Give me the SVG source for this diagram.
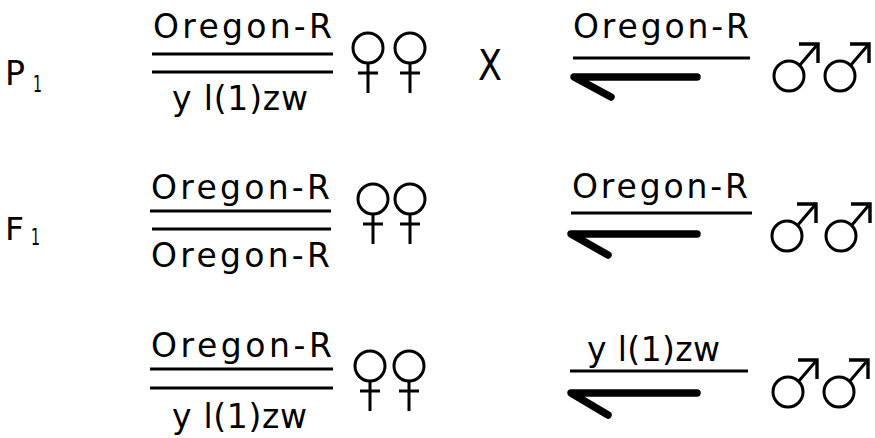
<svg xmlns="http://www.w3.org/2000/svg" xmlns:xlink="http://www.w3.org/1999/xlink" width="875" height="438" viewBox="0 0 875 438">
<style>
  text { font-family: "DejaVu Sans", "Liberation Sans", sans-serif; fill: #000; }
  .gen { font-size: 33px; }
  .sub { font-size: 23px; }
  .thin { stroke: #000; stroke-width: 2.8; fill: none; }
  .thick { stroke: #000; stroke-width: 7.5; fill: none; stroke-linecap: round; stroke-linejoin: round; }
  .sym { stroke: #000; stroke-width: 3; fill: none; }
</style>
<defs>
  <g id="fem" class="sym">
    <circle cx="0" cy="0" r="15"/>
    <line x1="0" y1="15" x2="0" y2="45"/>
    <line x1="-10" y1="25" x2="10" y2="25"/>
  </g>
  <g id="male" class="sym">
    <circle cx="0" cy="0" r="15"/>
    <line x1="10.5" y1="-10.5" x2="28" y2="-31"/>
    <polyline points="10,-32 29,-32 29,-13" stroke-width="3.4"/>
  </g>
</defs>
<rect width="875" height="438" fill="#fff"/>

<g id="label-P1">
  <text x="5" y="85" font-size="34" textLength="20" lengthAdjust="spacingAndGlyphs">P</text>
  <text x="33" y="92" class="sub" textLength="9" lengthAdjust="spacingAndGlyphs">1</text>
</g>
<g id="label-F1">
  <text x="5" y="240" font-size="32" textLength="19" lengthAdjust="spacingAndGlyphs">F</text>
  <text x="31" y="245" class="sub" textLength="9" lengthAdjust="spacingAndGlyphs">1</text>
</g>

<g id="p1-female">
  <text x="153" y="38" class="gen" textLength="179" lengthAdjust="spacing">Oregon-R</text>
  <line class="thin" x1="152" y1="54" x2="333" y2="54"/>
  <line class="thin" x1="152" y1="72" x2="333" y2="72"/>
  <text x="172" y="110" class="gen" textLength="136" lengthAdjust="spacing">y l(1)zw</text>
  <use xlink:href="#fem" x="368" y="48"/>
  <use xlink:href="#fem" x="410" y="48"/>
</g>

<g id="cross-X">
  <text x="478" y="80" font-size="42" textLength="24" lengthAdjust="spacingAndGlyphs">X</text>
</g>

<g id="p1-male">
  <text x="573" y="38" class="gen" textLength="176" lengthAdjust="spacing">Oregon-R</text>
  <line class="thin" x1="573" y1="58" x2="750" y2="58"/>
  <use xlink:href="#male" x="789" y="76"/>
  <use xlink:href="#male" x="840" y="76"/>
</g>

<g id="f1-female">
  <text x="151" y="199" class="gen" textLength="179" lengthAdjust="spacing">Oregon-R</text>
  <line class="thin" x1="150" y1="211" x2="331" y2="211"/>
  <line class="thin" x1="152" y1="229" x2="331" y2="229"/>
  <text x="151" y="267" class="gen" textLength="179" lengthAdjust="spacing">Oregon-R</text>
  <use xlink:href="#fem" x="373" y="199"/>
  <use xlink:href="#fem" x="410" y="199"/>
</g>

<g id="f1-male">
  <text x="572" y="198" class="gen" textLength="176" lengthAdjust="spacing">Oregon-R</text>
  <line class="thin" x1="571" y1="213" x2="752" y2="213"/>
  <use xlink:href="#male" x="787" y="236"/>
  <use xlink:href="#male" x="841" y="236"/>
</g>

<g id="f1b-female">
  <text x="151" y="357" class="gen" textLength="181" lengthAdjust="spacing">Oregon-R</text>
  <line class="thin" x1="150" y1="369" x2="333" y2="369"/>
  <line class="thin" x1="150" y1="388" x2="333" y2="388"/>
  <text x="172" y="428" class="gen" textLength="135" lengthAdjust="spacing">y l(1)zw</text>
  <use xlink:href="#fem" x="370" y="366"/>
  <use xlink:href="#fem" x="409" y="366"/>
</g>

<g id="f1b-male">
  <text x="587" y="361" class="gen" textLength="133" lengthAdjust="spacing">y l(1)zw</text>
  <line class="thin" x1="570" y1="371" x2="748" y2="371"/>
  <use xlink:href="#male" x="788" y="392"/>
  <use xlink:href="#male" x="839" y="392"/>
</g>

<g id="connectors">
  <path class="thick" d="M 697 77 H 574 L 611 97"/>
  <path class="thick" d="M 697 234 H 571 L 608 255"/>
  <path class="thick" d="M 697 393 H 571 L 608 415"/>
</g>
</svg>
